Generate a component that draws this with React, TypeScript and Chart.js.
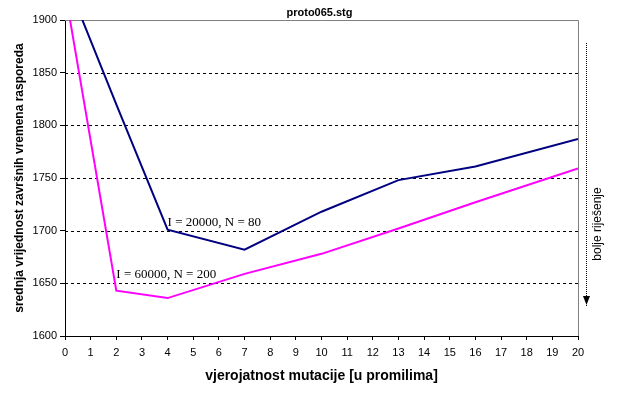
import React, { useEffect, useRef } from "react";
import { Chart, registerables } from "chart.js";

Chart.register(...registerables);

const chartTitle = "proto065.stg";
const xTitle = "vjerojatnost mutacije [u promilima]";
const yTitle = "srednja vrijednost završnih vremena rasporeda";
const sideNote = "bolje riješenje";

const xValues = [0, 2, 4, 7, 10, 13, 16, 20];
const seriesA = [1941, 1820, 1701, 1682, 1718, 1748, 1761, 1787]; // I = 20000, N = 80
const seriesB = [1928, 1643, 1636, 1659, 1678, 1702, 1727, 1759]; // I = 60000, N = 200
const labelA = "I = 20000, N = 80";
const labelB = "I = 60000, N = 200";
const labelAPos = { x: 4, y: 1704 };
const labelBPos = { x: 2, y: 1655 };

const yMin = 1600;
const yMax = 1900;
const yStep = 50;
const xMin = 0;
const xMax = 20;

const FONT = "'Liberation Sans', Arial, sans-serif";

const decor = {
  id: "decor",
  beforeDatasetsDraw(chart: any) {
    const { ctx, chartArea, scales } = chart;
    const y = scales.y;
    ctx.save();
    ctx.strokeStyle = "#000";
    ctx.lineWidth = 1;
    ctx.setLineDash([3, 3]);
    y.ticks.forEach((t: any) => {
      if (t.value <= yMin || t.value >= yMax) return;
      const py = Math.round(y.getPixelForValue(t.value)) + 0.5;
      ctx.beginPath();
      ctx.moveTo(chartArea.left, py);
      ctx.lineTo(chartArea.right, py);
      ctx.stroke();
    });
    ctx.setLineDash([]);
    ctx.strokeStyle = "#808080";
    ctx.beginPath();
    ctx.moveTo(chartArea.left, chartArea.top + 0.5);
    ctx.lineTo(chartArea.right + 0.5, chartArea.top + 0.5);
    ctx.lineTo(chartArea.right + 0.5, chartArea.bottom);
    ctx.stroke();
    ctx.restore();
  },
  afterDraw(chart: any) {
    const { ctx, chartArea, scales } = chart;
    const x = scales.x;
    const y = scales.y;
    ctx.save();
    ctx.fillStyle = "#000";
    // title
    ctx.font = `bold 11px ${FONT}`;
    ctx.textAlign = "center";
    ctx.textBaseline = "middle";
    ctx.fillText(chartTitle, (chartArea.left + chartArea.right) / 2 - 2, 13);
    // x title
    ctx.font = `bold 14px ${FONT}`;
    ctx.fillText(xTitle, (chartArea.left + chartArea.right) / 2, 376);
    // y title
    ctx.save();
    ctx.translate(20, (chartArea.top + chartArea.bottom) / 2);
    ctx.rotate(-Math.PI / 2);
    ctx.font = `bold 12px ${FONT}`;
    ctx.fillText(yTitle, 0, 0);
    ctx.restore();
    // annotations
    ctx.font = `13px 'Liberation Serif', 'Times New Roman', serif`;
    ctx.textAlign = "left";
    ctx.textBaseline = "alphabetic";
    ctx.fillText(labelA, x.getPixelForValue(labelAPos.x), y.getPixelForValue(labelAPos.y));
    ctx.fillText(labelB, x.getPixelForValue(labelBPos.x), y.getPixelForValue(labelBPos.y));
    // side arrow
    const ax = chartArea.right + 8.5;
    ctx.strokeStyle = "#000";
    ctx.lineWidth = 1;
    ctx.setLineDash([1, 1]);
    ctx.beginPath();
    ctx.moveTo(ax, 43);
    ctx.lineTo(ax, 306);
    ctx.stroke();
    ctx.setLineDash([]);
    ctx.beginPath();
    ctx.moveTo(ax - 3.5, 296);
    ctx.lineTo(ax + 3.5, 296);
    ctx.lineTo(ax, 305);
    ctx.closePath();
    ctx.fill();
    ctx.save();
    ctx.translate(ax + 11, 224);
    ctx.rotate(-Math.PI / 2);
    ctx.font = `12px ${FONT}`;
    ctx.textAlign = "center";
    ctx.textBaseline = "middle";
    ctx.fillText(sideNote, 0, 0);
    ctx.restore();
    ctx.restore();
  },
};

export default function App() {
  const ref = useRef<HTMLCanvasElement>(null);
  useEffect(() => {
    if (!ref.current) return;
    const chart = new Chart(ref.current, {
      type: "line",
      data: {
        datasets: [
          {
            label: labelA,
            data: xValues.map((v, i) => ({ x: v, y: seriesA[i] })),
            borderColor: "#000080",
            borderWidth: 2,
            pointRadius: 0,
            tension: 0,
            fill: false,
          },
          {
            label: labelB,
            data: xValues.map((v, i) => ({ x: v, y: seriesB[i] })),
            borderColor: "#FF00FF",
            borderWidth: 2,
            pointRadius: 0,
            tension: 0,
            fill: false,
          },
        ],
      },
      options: {
        responsive: false,
        animation: false,
        devicePixelRatio: 1,
        layout: { padding: { top: 20, right: 64, left: 0, bottom: 0 } },
        plugins: { legend: { display: false }, title: { display: false }, tooltip: { enabled: false } },
        scales: {
          x: {
            type: "linear",
            min: xMin,
            max: xMax,
            afterFit: (s: any) => { s.height = 60; },
            ticks: { stepSize: 1, color: "#000", font: { family: FONT, size: 11 }, padding: 6, maxRotation: 0, autoSkip: false, callback: (v: any) => String(v) },
            grid: { drawOnChartArea: false, drawTicks: true, tickLength: 4, color: "#000" },
            border: { display: true, color: "#000", width: 1 },
          },
          y: {
            min: yMin,
            max: yMax,
            afterFit: (s: any) => { s.width = 65; },
            ticks: { stepSize: yStep, color: "#000", font: { family: FONT, size: 11 }, padding: 3, callback: (v: any) => String(v) },
            grid: { drawOnChartArea: false, drawTicks: true, tickLength: 5, color: "#000" },
            border: { display: true, color: "#000", width: 1 },
          },
        },
      },
      plugins: [decor],
    });
    return () => chart.destroy();
  }, []);
  return (
    <div style={{ position: "fixed", left: 0, top: 0, width: 642, height: 396, background: "#fff" }}>
      <canvas ref={ref} width={642} height={396} />
    </div>
  );
}
